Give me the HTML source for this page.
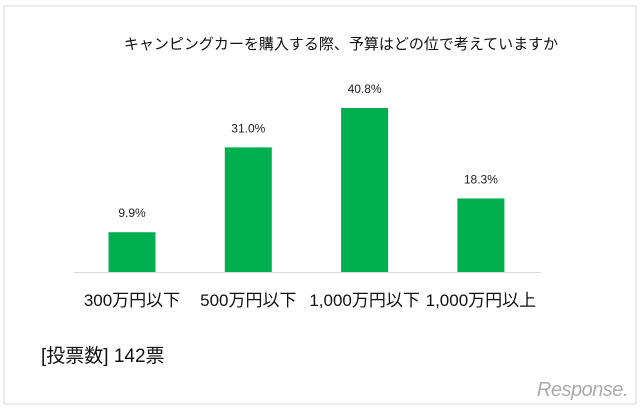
<!DOCTYPE html>
<html><head><meta charset="utf-8"><style>
body{margin:0;background:#fff;}
svg text{font-family:"Liberation Sans","Noto Sans CJK JP",sans-serif;}
</style></head><body>
<svg width="640" height="410" viewBox="0 0 640 410">
<rect x="4" y="6" width="632" height="398" fill="#fff" stroke="#d9d9d9"/>
<text x="341" y="49" font-size="15" text-anchor="middle" fill="#111">キャンピングカーを購入する際、予算はどの位で考えていますか</text>
<g id="bars"></g>
<line x1="74" y1="272.5" x2="541" y2="272.5" stroke="#d9d9d9"/>
<text x="41" y="362" font-size="19" fill="#111">[投票数] 142票</text>
<g>
<text x="628" y="396" font-size="20" text-anchor="end" fill="#aaa" font-style="italic" letter-spacing="-0.5">Response.</text>
</g>
</svg>
<script>
const categories=["300万円以下","500万円以下","1,000万円以下","1,000万円以上"];
const values=[9.9,31.0,40.8,18.3];
const labels=["9.9%","31.0%","40.8%","18.3%"];
const ns="http://www.w3.org/2000/svg";
const g=document.getElementById('bars');
const baseY=272, pxPer=4.02, x0=132, step=116.3, bw=47;
function xS(i){return x0+i*step;}
function yS(v){return baseY-v*pxPer;}
values.forEach((v,i)=>{
 const r=document.createElementNS(ns,'rect');
 r.setAttribute('x',xS(i)-bw/2);r.setAttribute('y',yS(v));
 r.setAttribute('width',bw);r.setAttribute('height',baseY-yS(v));
 r.setAttribute('fill','#00b050');
 
 
 g.appendChild(r);
 const t=document.createElementNS(ns,'text');
 t.setAttribute('x',xS(i));t.setAttribute('y',yS(v)-15);
 t.setAttribute('font-size','12');t.setAttribute('text-anchor','middle');t.setAttribute('fill','#222');
 t.textContent=labels[i];
 
 
 g.appendChild(t);
 const c=document.createElementNS(ns,'text');
 c.setAttribute('x',xS(i));c.setAttribute('y',306);
 c.setAttribute('font-size','17');c.setAttribute('text-anchor','middle');c.setAttribute('fill','#111');
 c.textContent=categories[i];
 
 
 g.appendChild(c);
});
</script>
</body></html>
